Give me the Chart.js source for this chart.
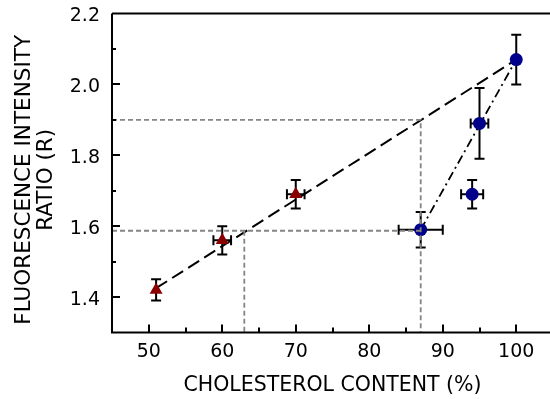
<!DOCTYPE html>
<html><head><meta charset="utf-8">
<script src="https://cdn.jsdelivr.net/npm/chart.js@4/dist/chart.umd.min.js"></script>
<style>html,body{margin:0;padding:0;overflow:hidden;background:#fff;width:550px;height:399px}canvas{display:block}</style>
</head><body>
<canvas id="c" width="553" height="399"></canvas>
<script>
// Red triangles
const redX = [51, 60, 70];
const redY = [1.42, 1.56, 1.69];
const redXErr = [0, 1.2, 1.2];
const redYErr = [0.03, 0.04, 0.04];
// Blue circles
const blueX = [87, 94, 95, 100];
const blueY = [1.59, 1.69, 1.89, 2.07];
const blueXErr = [3, 1.5, 1.2, 0];
const blueYErr = [0.05, 0.04, 0.10, 0.07];
// fit lines
const fitX = [51, 100];
const fitY = [1.425, 2.07];
const dashDotX = [87, 100];
const dashDotY = [1.59, 2.07];
// guide lines
const guideUpperX = [45, 87, 87];
const guideUpperY = [1.9, 1.9, 1.3];
const guideLowerX = [45, 87];
const guideLowerY = [1.587, 1.587];
const guideLowerVX = [63, 63];
const guideLowerVY = [1.587, 1.3];
// axes
const xMin = 45, xMax = 105, xStep = 5;
const yMin = 1.3, yMax = 2.2, yStep = 0.1;
const xTitle = 'CHOLESTEROL CONTENT (%)';
const yTitle = ['FLUORESCENCE INTENSITY', 'RATIO (R)'];

const pts = (xs, ys) => xs.map((x, i) => ({x, y: ys[i]}));

const errorBars = {
  id: 'errorBars',
  beforeDatasetsDraw(chart) {
    const {ctx, scales: {x, y}} = chart;
    const groups = [[redX, redY, redXErr, redYErr], [blueX, blueY, blueXErr, blueYErr]];
    ctx.save();
    ctx.strokeStyle = '#000';
    ctx.lineWidth = 2;
    ctx.setLineDash([]);
    const cap = 5;
    groups.forEach(([xs, ys, xe, ye]) => {
      xs.forEach((xv, i) => {
        const px = x.getPixelForValue(xv), py = y.getPixelForValue(ys[i]);
        if (ye[i]) {
          const t = y.getPixelForValue(ys[i] + ye[i]), b = y.getPixelForValue(ys[i] - ye[i]);
          ctx.beginPath();
          ctx.moveTo(px, t); ctx.lineTo(px, b);
          ctx.moveTo(px - cap, t); ctx.lineTo(px + cap, t);
          ctx.moveTo(px - cap, b); ctx.lineTo(px + cap, b);
          ctx.stroke();
        }
        if (xe[i]) {
          const l = x.getPixelForValue(xv - xe[i]), r = x.getPixelForValue(xv + xe[i]);
          ctx.beginPath();
          ctx.moveTo(l, py); ctx.lineTo(r, py);
          ctx.moveTo(l, py - cap); ctx.lineTo(l, py + cap);
          ctx.moveTo(r, py - cap); ctx.lineTo(r, py + cap);
          ctx.stroke();
        }
      });
    });
    ctx.restore();
  }
};

const frame = {
  id: 'frame',
  afterDraw(chart) {
    const {ctx, chartArea: a, scales: {x, y}} = chart;
    ctx.save();
    ctx.strokeStyle = '#000';
    ctx.lineWidth = 2;
    ctx.setLineDash([]);
    ctx.beginPath();
    ctx.moveTo(a.left, a.top); ctx.lineTo(a.right + 10, a.top);
    ctx.moveTo(a.left, a.top); ctx.lineTo(a.left, a.bottom);
    ctx.lineTo(a.right + 10, a.bottom);
    ctx.stroke();
    ctx.beginPath();
    x.ticks.forEach(t => {
      if (t.value <= xMin || t.value >= xMax) return;
      const px = Math.round(x.getPixelForValue(t.value));
      const major = Math.round(t.value) % 10 === 0;
      ctx.moveTo(px, a.bottom); ctx.lineTo(px, a.bottom - (major ? 8 : 5));
    });
    y.ticks.forEach(t => {
      if (t.value <= yMin + 1e-6 || t.value >= yMax - 1e-6) return;
      const py = Math.round(y.getPixelForValue(t.value));
      const major = Math.round(t.value * 10) % 2 === 0;
      ctx.moveTo(a.left, py); ctx.lineTo(a.left + (major ? 8 : 4), py);
    });
    ctx.stroke();
    ctx.restore();
  }
};

const gray = {borderColor: '#858585', borderWidth: 1.8, borderDash: [5, 3], pointRadius: 0, showLine: true, fill: false};

new Chart(document.getElementById('c'), {
  type: 'scatter',
  data: {
    datasets: [
      Object.assign({data: pts(guideUpperX, guideUpperY)}, gray),
      Object.assign({data: pts(guideLowerX, guideLowerY)}, gray),
      Object.assign({data: pts(guideLowerVX, guideLowerVY)}, gray),
      {data: pts(redX, redY), pointStyle: 'triangle', pointRadius: 7.5, backgroundColor: '#8b0000', borderColor: '#8b0000', borderWidth: 0, showLine: false},
      {data: pts(blueX, blueY), pointStyle: 'circle', pointRadius: 6.5, backgroundColor: '#00008b', borderColor: '#00008b', borderWidth: 0, showLine: false},
      {data: pts(fitX, fitY), showLine: true, borderColor: '#000', borderWidth: 2, borderDash: [13, 6], pointRadius: 0},
      {data: pts(dashDotX, dashDotY), showLine: true, borderColor: '#000', borderWidth: 1.8, borderDash: [9, 4, 2, 4], pointRadius: 0}
    ]
  },
  options: {
    responsive: false,
    animation: false,
    events: [],
    layout: {autoPadding: false, padding: {top: 13.5, right: 0, left: 0, bottom: 0}},
    plugins: {legend: {display: false}, tooltip: {enabled: false}},
    scales: {
      x: {
        type: 'linear', min: xMin, max: xMax,
        grid: {display: false, drawTicks: false},
        border: {display: false},
        ticks: {stepSize: xStep, padding: 8, color: '#000', autoSkip: false, maxRotation: 0, minRotation: 0,
          font: {family: 'DejaVu Sans', size: 19},
          callback: v => (Math.round(v) % 10 === 0 ? String(Math.round(v)) : '')},
        title: {display: true, text: xTitle, color: '#000', font: {family: 'DejaVu Sans', size: 20.5}, padding: {top: 0, bottom: 1}},
        afterFit(s) { s.height = 66.5; s.paddingLeft = 0; s.paddingRight = 0; }
      },
      y: {
        type: 'linear', min: yMin, max: yMax,
        grid: {display: false, drawTicks: false},
        border: {display: false},
        ticks: {stepSize: yStep, padding: 12, labelOffset: 3, color: '#000', font: {family: 'DejaVu Sans', size: 19},
          callback: v => (Math.round(v * 10) % 2 === 0 ? v.toFixed(1) : '')},
        title: {display: true, text: yTitle.map(s => s + '  '), color: '#000', font: {family: 'DejaVu Sans', size: 21.5, lineHeight: 1.0}, padding: {top: 14, bottom: 0}},
        afterFit(s) { s.width = 112; s.paddingTop = 0; s.paddingBottom = 0; }
      }
    }
  },
  plugins: [errorBars, frame]
});
</script>
</body></html>
